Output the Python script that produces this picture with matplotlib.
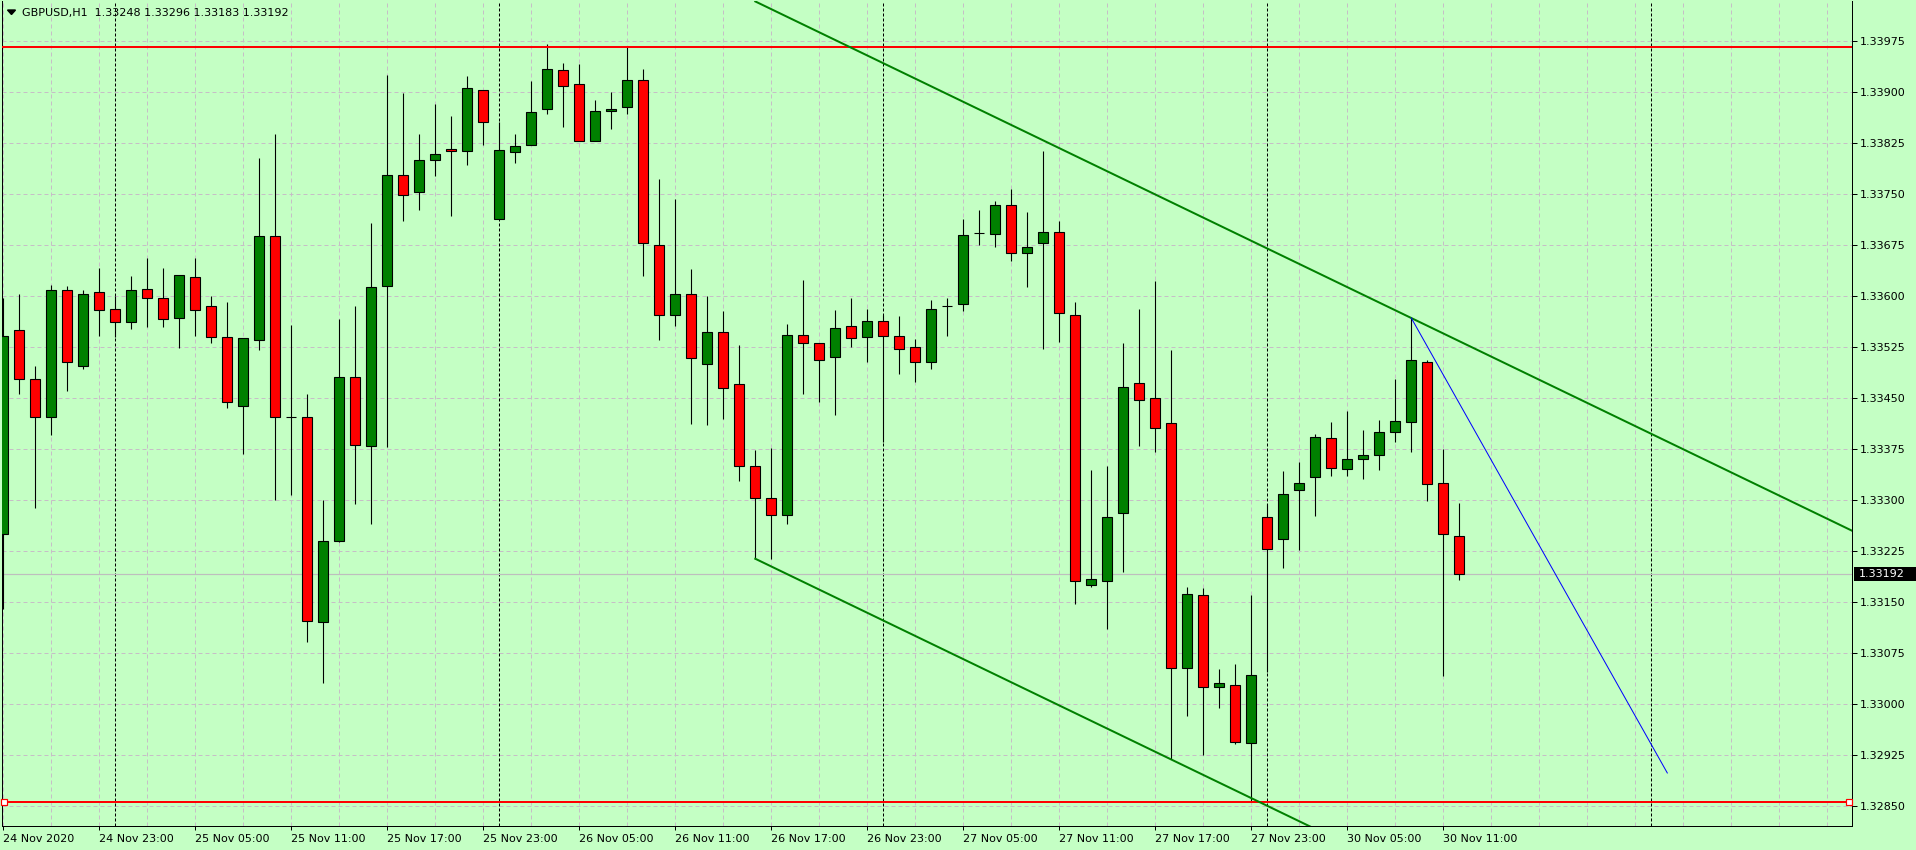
import numpy as np
import matplotlib
matplotlib.use("Agg")
import matplotlib.pyplot as plt
from matplotlib.patches import Polygon, Rectangle
from matplotlib.transforms import blended_transform_factory

plt.rcParams['font.family'] = ['DejaVu Sans']

# ---------------- data ----------------
chart_title = "GBPUSD,H1  1.33248 1.33296 1.33183 1.33192"

opens = [1.33250, 1.33550, 1.33479, 1.33422, 1.33609, 1.33498, 1.33607, 1.33582, 1.33562, 1.33610,
         1.33597, 1.33568, 1.33628, 1.33585, 1.33540, 1.33438, 1.33536, 1.33689, 1.33422, 1.33423,
         1.33121, 1.33240, 1.33482, 1.33380, 1.33615, 1.33778, 1.33753, 1.33800, 1.33816, 1.33813,
         1.33903, 1.33713, 1.33812, 1.33822, 1.33875, 1.33932, 1.33912, 1.33828, 1.33872, 1.33879,
         1.33918, 1.33676, 1.33572, 1.33603, 1.33500, 1.33547, 1.33471, 1.33350, 1.33303, 1.33279,
         1.33543, 1.33531, 1.33510, 1.33556, 1.33540, 1.33563, 1.33541, 1.33525, 1.33504, 1.33585,
         1.33588, 1.33693, 1.33691, 1.33734, 1.33663, 1.33679, 1.33694, 1.33573, 1.33176, 1.33182,
         1.33282, 1.33472, 1.33450, 1.33413, 1.33053, 1.33160, 1.33026, 1.33029, 1.32943, 1.33275,
         1.33243, 1.33315, 1.33334, 1.33391, 1.33346, 1.33360, 1.33366, 1.33400, 1.33415, 1.33503,
         1.33325, 1.33248]
highs = [1.33597, 1.33603, 1.33497, 1.33617, 1.33615, 1.33609, 1.33642, 1.33600, 1.33630, 1.33656,
         1.33642, 1.33631, 1.33656, 1.33600, 1.33591, 1.33538, 1.33803, 1.33838, 1.33558, 1.33457,
         1.33301, 1.33566, 1.33585, 1.33708, 1.33925, 1.33899, 1.33839, 1.33883, 1.33865, 1.33924,
         1.33903, 1.33856, 1.33839, 1.33916, 1.33971, 1.33943, 1.33942, 1.33888, 1.33901, 1.33968,
         1.33934, 1.33772, 1.33743, 1.33640, 1.33600, 1.33578, 1.33528, 1.33374, 1.33377, 1.33559,
         1.33624, 1.33532, 1.33580, 1.33598, 1.33581, 1.33573, 1.33571, 1.33537, 1.33595, 1.33597,
         1.33714, 1.33727, 1.33740, 1.33758, 1.33724, 1.33813, 1.33711, 1.33591, 1.33344, 1.33350,
         1.33532, 1.33581, 1.33622, 1.33521, 1.33172, 1.33171, 1.33052, 1.33059, 1.33161, 1.33295,
         1.33343, 1.33357, 1.33397, 1.33415, 1.33432, 1.33404, 1.33418, 1.33478, 1.33568, 1.33507,
         1.33375, 1.33296]
lows = [1.33140, 1.33456, 1.33288, 1.33396, 1.33460, 1.33493, 1.33542, 1.33540, 1.33552, 1.33555,
        1.33555, 1.33524, 1.33542, 1.33532, 1.33436, 1.33368, 1.33521, 1.33301, 1.33308, 1.33092,
        1.33031, 1.33238, 1.33294, 1.33265, 1.33379, 1.33710, 1.33727, 1.33777, 1.33718, 1.33793,
        1.33823, 1.33713, 1.33796, 1.33822, 1.33868, 1.33849, 1.33828, 1.33828, 1.33846, 1.33868,
        1.33630, 1.33535, 1.33557, 1.33412, 1.33410, 1.33419, 1.33329, 1.33214, 1.33213, 1.33265,
        1.33457, 1.33445, 1.33426, 1.33525, 1.33504, 1.33385, 1.33485, 1.33474, 1.33493, 1.33542,
        1.33578, 1.33676, 1.33672, 1.33652, 1.33613, 1.33523, 1.33533, 1.33148, 1.33173, 1.33110,
        1.33194, 1.33380, 1.33371, 1.32919, 1.32983, 1.32925, 1.32994, 1.32942, 1.32857, 1.33047,
        1.33201, 1.33227, 1.33277, 1.33335, 1.33336, 1.33332, 1.33345, 1.33385, 1.33371, 1.33299,
        1.33042, 1.33183]
closes = [1.33542, 1.33479, 1.33422, 1.33609, 1.33503, 1.33603, 1.33580, 1.33562, 1.33609, 1.33597,
          1.33566, 1.33631, 1.33580, 1.33540, 1.33444, 1.33538, 1.33688, 1.33423, 1.33422, 1.33123,
          1.33240, 1.33482, 1.33381, 1.33614, 1.33778, 1.33749, 1.33800, 1.33809, 1.33813, 1.33906,
          1.33856, 1.33815, 1.33821, 1.33871, 1.33934, 1.33909, 1.33828, 1.33872, 1.33876, 1.33918,
          1.33678, 1.33572, 1.33603, 1.33509, 1.33548, 1.33465, 1.33350, 1.33303, 1.33279, 1.33543,
          1.33532, 1.33507, 1.33553, 1.33538, 1.33563, 1.33541, 1.33523, 1.33503, 1.33582, 1.33585,
          1.33690, 1.33693, 1.33734, 1.33663, 1.33673, 1.33694, 1.33575, 1.33181, 1.33184, 1.33276,
          1.33466, 1.33448, 1.33407, 1.33054, 1.33162, 1.33025, 1.33032, 1.32945, 1.33043, 1.33229,
          1.33309, 1.33326, 1.33393, 1.33347, 1.33360, 1.33366, 1.33400, 1.33416, 1.33507, 1.33324,
          1.33250, 1.33192]

time_tick_pos = [0, 6, 12, 18, 24, 30, 36, 42, 48, 54, 60, 66, 72, 78, 84, 90]
time_tick_labels = ["24 Nov 2020", "24 Nov 23:00", "25 Nov 05:00", "25 Nov 11:00",
                    "25 Nov 17:00", "25 Nov 23:00", "26 Nov 05:00", "26 Nov 11:00",
                    "26 Nov 17:00", "26 Nov 23:00", "27 Nov 05:00", "27 Nov 11:00",
                    "27 Nov 17:00", "27 Nov 23:00", "30 Nov 05:00", "30 Nov 11:00"]
day_separators = [7, 31, 55, 79, 103]
price_ticks = [1.33975, 1.33900, 1.33825, 1.33750, 1.33675, 1.33600, 1.33525, 1.33450,
               1.33375, 1.33300, 1.33225, 1.33150, 1.33075, 1.33000, 1.32925, 1.32850]
price_tick_labels = ["1.33975", "1.33900", "1.33825", "1.33750", "1.33675", "1.33600",
                     "1.33525", "1.33450", "1.33375", "1.33300", "1.33225", "1.33150",
                     "1.33075", "1.33000", "1.32925", "1.32850"]

hline_top = 1.33967
hline_bottom = 1.32857
channel_lower_k = [47, 78]
channel_lower_p = [1.33214, 1.32862]
channel_upper_k = 88
channel_upper_p = 1.33568
blue_k = [88, 104]
blue_p = [1.33568, 1.32899]

# ---------------- style ----------------
W, H = 1916, 850
BG = '#C4FFC4'
GRID = '#C6BEC6'
UP = '#008000'
DOWN = '#FF0000'
PX = 0.72  # one pixel in points

fig = plt.figure(figsize=(W / 100, H / 100), dpi=100, facecolor=BG)
ax = fig.add_axes([2 / W, (H - 826) / H, 1850 / W, 825 / H], facecolor=BG)

n = len(opens)
x = np.arange(n)
o = np.array(opens); c = np.array(closes)
hi = np.array(highs); lo = np.array(lows)

ax.set_xlim(-0.08125, 115.54375)
ax.set_ylim(1.32821, 1.340342)

# grid
ax.set_yticks(price_ticks)
ax.set_yticklabels(price_tick_labels)
ax.set_xticks(time_tick_pos)
ax.set_xticklabels(time_tick_labels)
ax.set_xticks(np.arange(3, 116, 3), minor=True)
ax.grid(which='both', axis='both', color=GRID, linestyle=(0, (4, 3)), linewidth=PX, zorder=0.5)
ax.set_axisbelow(True)

ax.yaxis.tick_right()
ax.tick_params(axis='y', which='major', length=3.5, width=PX, pad=2, labelsize=8, colors='black')
ax.tick_params(axis='x', which='major', length=3, width=PX, pad=2.5, labelsize=8, colors='black')
ax.tick_params(axis='x', which='minor', length=0)
for lbl in ax.get_xticklabels():
    lbl.set_horizontalalignment('left')
for sp in ax.spines.values():
    sp.set_color('black')
    sp.set_linewidth(PX)
ax.spines['top'].set_visible(False)

# day separators
for d in day_separators:
    ax.axvline(d, color='black', linewidth=PX, linestyle=(0, (3, 2)), zorder=1)

# bid line
ax.axhline(closes[-1], color='#BEBEBE', linewidth=PX * 1.2, zorder=1.5)

# candles
ax.vlines(x, lo, hi, color='black', linewidth=PX * 1.1, zorder=2)
colors = [UP if cc > oo else (DOWN if cc < oo else 'black') for oo, cc in zip(o, c)]
ax.bar(x, np.abs(c - o), bottom=np.minimum(o, c), width=0.625, color=colors,
       edgecolor='black', linewidth=PX * 1.1, zorder=3)

# horizontal lines
ax.axhline(hline_top, color='#FF0000', linewidth=2 * PX, zorder=4)
ax.axhline(hline_bottom, color='#FF0000', linewidth=2 * PX, zorder=4)
bt = blended_transform_factory(ax.transAxes, ax.transData)
ax.plot([0.0012, 0.9985], [hline_bottom, hline_bottom], 's', ms=3.8, mfc='white',
        mec='#FF0000', mew=PX * 1.2, transform=bt, zorder=5, clip_on=False)

# channel
slope = (channel_lower_p[1] - channel_lower_p[0]) / (channel_lower_k[1] - channel_lower_k[0])
xr = np.array([channel_lower_k[0], 116.0])
ax.plot(xr, channel_lower_p[0] + slope * (xr - channel_lower_k[0]), color=UP,
        linewidth=2 * PX, zorder=4)
ax.plot(xr, channel_upper_p + slope * (xr - channel_upper_k), color=UP,
        linewidth=2 * PX, zorder=4)

# blue trend line
ax.plot(blue_k, blue_p, color='#0000FF', linewidth=PX, zorder=4)

# current price label box
pad_p = 7 / 68000.0
rect = Rectangle((1.0 + 2 / 1850, closes[-1] - pad_p), 64 / 1850, 2 * pad_p, transform=bt,
                 facecolor='black', edgecolor='none', clip_on=False, zorder=6)
ax.add_patch(rect)
ax.text(1.0 + 7 / 1850, closes[-1], "%.5f" % closes[-1], transform=bt, color='white',
        fontsize=8, va='center', ha='left', zorder=7, clip_on=False)

# title
fig.text(21.5 / W, 1 - 13 / H, chart_title, fontsize=8, va='center', ha='left', color='black')
tri = Polygon([[7.5 / W, 1 - 10 / H], [15.5 / W, 1 - 10 / H], [11.5 / W, 1 - 14.5 / H]],
              closed=True, transform=fig.transFigure, facecolor='black', edgecolor='black')
fig.add_artist(tri)

fig.savefig('out.png', dpi=100, facecolor=BG)
